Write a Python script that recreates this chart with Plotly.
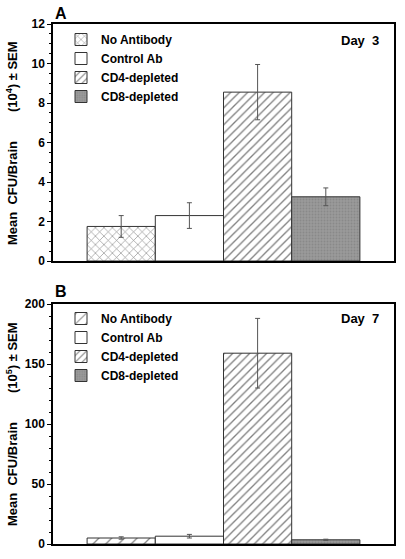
import plotly.graph_objects as go

groups = ["No Antibody", "Control Ab", "CD4-depleted", "CD8-depleted"]
day3_mean = [1.75, 2.3, 8.55, 3.25]
day3_sem = [0.55, 0.65, 1.4, 0.45]
day7_mean = [5.0, 6.5, 159.0, 3.5]
day7_sem = [1.0, 1.5, 29.0, 0.5]
day3_ticks = [0, 2, 4, 6, 8, 10, 12]
day7_ticks = [0, 50, 100, 150, 200]

W, H = 405, 559
L, R = 53, 394


def py(p):
    return 1 - p / H


def px(p):
    return (p - L) / (R - L)


patterns_a = [
    dict(shape="x", size=6, solidity=0.2, fgcolor="#111", bgcolor="white"),
    dict(shape="", bgcolor="white"),
    dict(shape="/", size=6, solidity=0.22, fgcolor="#000", bgcolor="white"),
    dict(shape=".", size=3, solidity=0.35, fgcolor="#777", bgcolor="#9a9a9a"),
]
patterns_b = [
    dict(shape="/", size=9, solidity=0.15, fgcolor="#111", bgcolor="white"),
    dict(shape="", bgcolor="white"),
    dict(shape="/", size=6, solidity=0.22, fgcolor="#000", bgcolor="white"),
    dict(shape=".", size=3, solidity=0.35, fgcolor="#777", bgcolor="#9a9a9a"),
]

fig = go.Figure()
for i, g in enumerate(groups):
    fig.add_trace(go.Bar(
        x=[i], y=[day3_mean[i]], width=1, name=g,
        marker=dict(color="white", pattern=patterns_a[i],
                    line=dict(color="#333", width=1)),
        error_y=dict(type="data", array=[day3_sem[i]], color="#555",
                     thickness=1, width=2.5),
        xaxis="x", yaxis="y", legend="legend",
    ))
for i, g in enumerate(groups):
    fig.add_trace(go.Bar(
        x=[i], y=[day7_mean[i]], width=1, name=g,
        marker=dict(color="white", pattern=patterns_b[i],
                    line=dict(color="#333", width=1)),
        error_y=dict(type="data", array=[day7_sem[i]], color="#555",
                     thickness=1, width=2.5),
        xaxis="x2", yaxis="y2", legend="legend2",
    ))

xcommon = dict(range=[-1, 4], showticklabels=False, ticks="", showgrid=False,
               zeroline=False, showline=True, linecolor="black", linewidth=1.5,
               mirror=True, fixedrange=True)
ycommon = dict(showgrid=False, zeroline=False, showline=True, linecolor="black",
               linewidth=1.5, mirror=True, ticks="outside", ticklen=4,
               tickwidth=1, tickcolor="black", automargin=False,
               tickfont=dict(size=12, weight="bold"))

fig.update_layout(
    width=W, height=H,
    margin=dict(l=L, r=W - R, t=0, b=0),
    paper_bgcolor="white", plot_bgcolor="white",
    font=dict(family="Liberation Sans, Arial, sans-serif", size=12,
              color="black", weight="bold"),
    barmode="overlay",
    xaxis=dict(**xcommon, domain=[0, 1], anchor="y"),
    yaxis=dict(**ycommon, domain=[py(261), py(24)], range=[0, 12],
               tickvals=day3_ticks, anchor="x",
               minor=dict(dtick=0.5, ticklen=2, ticks="outside",
                          tickcolor="black")),
    xaxis2=dict(**xcommon, domain=[0, 1], anchor="y2"),
    yaxis2=dict(**ycommon, domain=[py(544), py(304)], range=[0, 200],
                tickvals=day7_ticks, anchor="x2",
                minor=dict(dtick=10, ticklen=2, ticks="outside",
                           tickcolor="black")),
    legend=dict(x=px(61), y=py(25), xanchor="left", yanchor="top",
                bgcolor="rgba(0,0,0,0)", font=dict(size=12, weight="bold"),
                tracegroupgap=0),
    legend2=dict(x=px(61), y=py(304), xanchor="left", yanchor="top",
                 bgcolor="rgba(0,0,0,0)", font=dict(size=12, weight="bold"),
                 tracegroupgap=0),
    showlegend=True,
)

ann = [
    dict(text="A", x=px(61), y=py(13), font=dict(size=16, weight="bold")),
    dict(text="B", x=px(61), y=py(291), font=dict(size=16, weight="bold")),
    dict(text="Day  3", x=px(381), y=py(40), xanchor="right",
         font=dict(size=13, weight="bold")),
    dict(text="Day  7", x=px(381), y=py(318), xanchor="right",
         font=dict(size=13, weight="bold")),
    dict(text="Mean  CFU/Brain        (10<sup>4</sup>) ± SEM", x=px(12),
         y=py(143), textangle=-90, font=dict(size=13, weight="bold")),
    dict(text="Mean  CFU/Brain        (10<sup>5</sup>) ± SEM", x=px(12),
         y=py(424), textangle=-90, font=dict(size=13, weight="bold")),
]
for a in ann:
    a.setdefault("xanchor", "center")
    fig.add_annotation(xref="paper", yref="paper", showarrow=False,
                       yanchor="middle", **a)

fig.write_html(
    "out.html",
    config={"displayModeBar": False},
    post_script="document.body.style.margin='0';"
                "document.body.style.overflow='hidden';",
)
